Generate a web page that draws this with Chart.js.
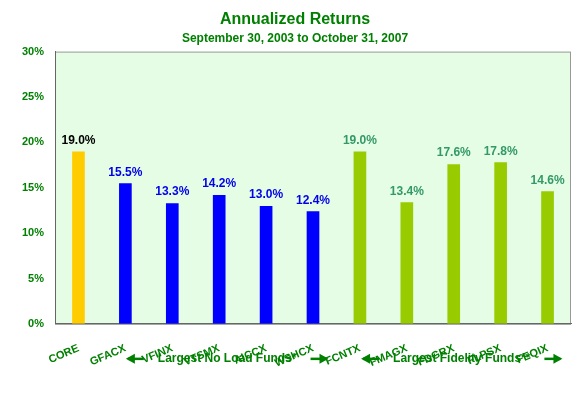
<!DOCTYPE html><html><head><script src="https://cdn.jsdelivr.net/npm/chart.js@4"></script>
<style>body{margin:0;background:#fff}#w{width:580px;height:400px}</style></head><body><div id="w"><canvas id="c"></canvas></div>
<script>
const categories=["CORE","GFACX","VFINX","VTSMX","AICCX","WSHCX","FCNTX","FMAGX","FDGRX","FLPSX","FEQIX"];
const returns=[19.0,15.5,13.3,14.2,13.0,12.4,19.0,13.4,17.6,17.8,14.6];
const barColors=["#ffcc00","#0000ff","#0000ff","#0000ff","#0000ff","#0000ff","#99cc00","#99cc00","#99cc00","#99cc00","#99cc00"];
const labelColors=["#000000","#0000ee","#0000ee","#0000ee","#0000ee","#0000ee","#339966","#339966","#339966","#339966","#339966"];
const groupLabels=["Largest No Load Funds*","Largest Fidelity Funds**"];
const F="'Liberation Sans', Arial, sans-serif";
const G="#008000";
const plug={id:'p',
beforeDraw(ch){const a=ch.chartArea,x=ch.ctx;x.save();x.fillStyle="#e4fde4";x.fillRect(a.left,a.top,a.right-a.left,a.bottom-a.top);x.strokeStyle="#999";x.lineWidth=1;x.strokeRect(a.left+.5,a.top+.5,a.right-a.left-1,a.bottom-a.top);x.restore();},
afterDatasetsDraw(ch){const x=ch.ctx,m=ch.getDatasetMeta(0);x.save();x.font="bold 12px "+F;x.textAlign="center";x.textBaseline="bottom";
m.data.forEach((b,i)=>{x.fillStyle=labelColors[i];x.fillText(returns[i].toFixed(1)+"%",b.x,b.y-5);});
const y=ch.chartArea.bottom+35;x.font="bold 12px "+F;x.fillStyle=G;x.strokeStyle=G;x.textBaseline="middle";
const groups=[[1,5],[6,10]];
groups.forEach((g,k)=>{const c=(m.data[g[0]].x+m.data[g[1]].x)/2+8;x.fillText(groupLabels[k],c,y);const w=x.measureText(groupLabels[k]).width;
const l=c-w/2-30, r=c+w/2+30;
x.lineWidth=2.5;x.beginPath();x.moveTo(l,y);x.lineTo(l+16,y);x.stroke();x.beginPath();x.moveTo(l-2,y);x.lineTo(l+7,y-5);x.lineTo(l+7,y+5);x.fill();
x.beginPath();x.moveTo(r-16,y);x.lineTo(r,y);x.stroke();x.beginPath();x.moveTo(r+2,y);x.lineTo(r-7,y-5);x.lineTo(r-7,y+5);x.fill();});
x.restore();}};
new Chart(document.getElementById('c'),{type:'bar',data:{labels:categories,datasets:[{data:returns,backgroundColor:barColors,barPercentage:0.27,categoryPercentage:1}]},
options:{responsive:true,maintainAspectRatio:false,animation:false,layout:{padding:{left:19,right:9,bottom:20,top:0}},
plugins:{legend:{display:false},tooltip:{enabled:false},
title:{display:true,text:"Annualized Returns",color:G,font:{family:F,size:16,weight:'bold'},padding:{top:10,bottom:0}},
subtitle:{display:true,text:"September 30, 2003 to October 31, 2007",color:G,font:{family:F,size:12,weight:'bold'},padding:{top:2,bottom:6}}},
scales:{x:{grid:{display:false,drawTicks:true},border:{color:"#666"},ticks:{color:G,font:{family:F,size:11,weight:'bold'},padding:10}},
y:{min:0,max:30,grid:{display:false},border:{color:"#666"},ticks:{stepSize:5,color:G,font:{family:F,size:11,weight:'bold'},callback:v=>v+"%"}}}},plugins:[plug]});
</script></body></html>
